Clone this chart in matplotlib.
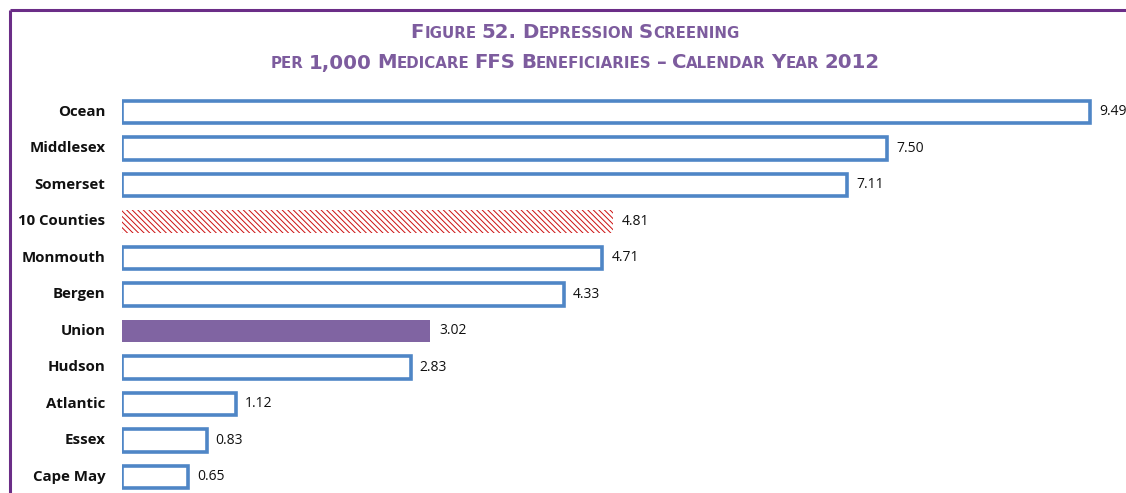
import matplotlib.pyplot as plt
from matplotlib.offsetbox import TextArea, HPacker, AnnotationBbox
from matplotlib.lines import Line2D

counties = ["Ocean", "Middlesex", "Somerset", "10 Counties", "Monmouth", "Bergen",
            "Union", "Hudson", "Atlantic", "Essex", "Cape May"]
rates = [9.49, 7.50, 7.11, 4.81, 4.71, 4.33, 3.02, 2.83, 1.12, 0.83, 0.65]
value_labels = ["9.49", "7.50", "7.11", "4.81", "4.71", "4.33", "3.02", "2.83", "1.12", "0.83", "0.65"]

blue = "#4f86c6"
purple_fill = "#8064a2"
title_col = "#7d5c9e"
frame_col = "#6b2d87"

plt.rcParams['hatch.linewidth'] = 0.7

W, H = 1126, 493
fig = plt.figure(figsize=(W / 100, H / 100), dpi=100)
fig.patch.set_facecolor("white")

# axes: x=0 at px 122, 102 px per unit; rows 36.5 px apart starting at y=112
ax_top = 95
ax = fig.add_axes([122 / W, 0, 1 - 122 / W, (H - ax_top) / H])
ax.set_xlim(0, (W - 122) / 102)
ax.set_ylim((H - 112) / 36.5, (ax_top - 112) / 36.5)
ax.axis("off")

for i, (name, v, lab) in enumerate(zip(counties, rates, value_labels)):
    if name == "Union":
        ax.barh(i, v, height=0.62, color=purple_fill, edgecolor=purple_fill, linewidth=0)
    elif name == "10 Counties":
        ax.barh(i, v, height=0.62, color="white", edgecolor="#cc1010", hatch="\\\\\\\\\\\\", linewidth=0)
    else:
        ax.barh(i, v, height=0.62, color="white", edgecolor=blue, linewidth=2.6)
    ax.annotate(lab, (v, i), xytext=(6.5, 0), textcoords="offset points", va="center",
                ha="left", fontsize=10, family="Open Sans", color="#111111")
    ax.annotate(name, (0, i), xytext=(-12, 0), textcoords="offset points", va="center",
                ha="right", fontsize=10.8, family="Open Sans", fontweight="bold",
                color="#111111", annotation_clip=False)

# purple frame (cropped at right and bottom)
fig.add_artist(Line2D([9.5 / W, 9.5 / W], [0, 1 - 9.5 / H], color=frame_col, lw=2.2,
                      transform=fig.transFigure, solid_capstyle="butt"))
fig.add_artist(Line2D([9.5 / W, 1], [1 - 9.5 / H, 1 - 9.5 / H], color=frame_col, lw=2.2,
                      transform=fig.transFigure, solid_capstyle="butt"))


def small_caps(text, big=14.2, small=10.8):
    parts = []
    for word in text.split(" "):
        chunks = []
        cur, cur_up = "", None
        for ch in word:
            up = not ch.isalpha() or ch.isupper()
            if cur_up is None or up == cur_up:
                cur += ch
            else:
                chunks.append((cur, cur_up))
                cur = ch
            cur_up = up
        chunks.append((cur, cur_up))
        parts.append(chunks)
    boxes = []
    for wi, chunks in enumerate(parts):
        for s, up in chunks:
            t = s if up else s.upper()
            boxes.append(TextArea(t, textprops=dict(fontsize=big if up else small,
                                                     family="DejaVu Sans",
                                                     fontweight="bold", color=title_col)))
        if wi < len(parts) - 1:
            boxes.append(TextArea(" ", textprops=dict(fontsize=small, family="DejaVu Sans",
                                                      fontweight="bold")))
    return HPacker(children=boxes, align="baseline", pad=0, sep=0)


for txt, y in [("Figure 52. Depression Screening", 33),
               ("per 1,000 Medicare FFS Beneficiaries \u2013 Calendar Year 2012", 63)]:
    ab = AnnotationBbox(small_caps(txt), (575 / W, 1 - y / H), xycoords=fig.transFigure,
                        frameon=False, box_alignment=(0.5, 0.5), pad=0)
    fig.add_artist(ab)

fig.savefig("out.png", dpi=100)
